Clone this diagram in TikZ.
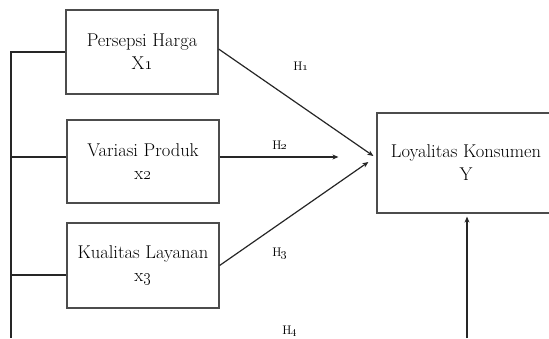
\documentclass[tikz,border=0pt]{standalone}
\usepackage{tikz}
\usetikzlibrary{arrows.meta,positioning,calc}
\tikzset{
  var/.style={draw=black!70, line width=1.2pt, align=center, font=\fontsize{18.5}{23}\selectfont, minimum width=152pt, inner sep=0pt},
  hyp/.style={font=\fontsize{12.5}{14}\selectfont, inner sep=0pt},
  lnk/.style={line width=1.2pt, draw=black!85},
  arr/.style={lnk, -{Stealth[length=6pt,width=5pt]}},
}
\newcommand{\osn}[1]{\oldstylenums{#1}}

\begin{document}
\begin{tikzpicture}[x=1pt,y=-1pt]
\clip (0,0) rectangle (549,338);
\node[var, minimum height=84pt] (X1) at (142,52) {Persepsi Harga\\X\osn{1}};
\node[var, minimum height=83pt] (X2) at (143,161.5) {Variasi Produk\\x\osn{2}};
\node[var, minimum height=85pt] (X3) at (143,265.5) {Kualitas Layanan\\x\osn{3}};
\node[var, minimum width=178pt, minimum height=100pt] (Y) at (466,163) {Loyalitas Konsumen\\Y};
% left bus
\coordinate (busTop) at (11,52);
\coordinate (busBot) at (11,338);
\coordinate (yBot) at (467,338);
\coordinate (x2w) at ([yshift=4.5pt]X2.west);
\coordinate (x3w) at ([yshift=-9.5pt]X3.west);
\draw[lnk] (X1.west) -- (busTop) -- (busBot);
\draw[lnk] (x2w) -- (x2w -| busTop);
\draw[lnk] (x3w) -- (x3w -| busTop);
% paths to Y
\draw[arr] ([yshift=3pt]X1.east) -- ($(Y.west)+(-3,-7)$);
\draw[arr] ([yshift=4.5pt]X2.east) -- ($(Y.west)+(-38,-6)$);
\draw[arr] (X3.east) -- ($(Y.west)+(-8,-1)$);
\draw[arr, shorten >=3pt] (yBot) -- (yBot |- Y.south);
% hypothesis labels
\node[hyp] (h1) at (301,66) {H\osn{1}};
\node[hyp] (h2) at (280,145) {H\osn{2}};
\node[hyp] (h3) at (280,253) {H\osn{3}};
\node[hyp] (h4) at (290,331) {H\osn{4}};
\end{tikzpicture}
\end{document}
